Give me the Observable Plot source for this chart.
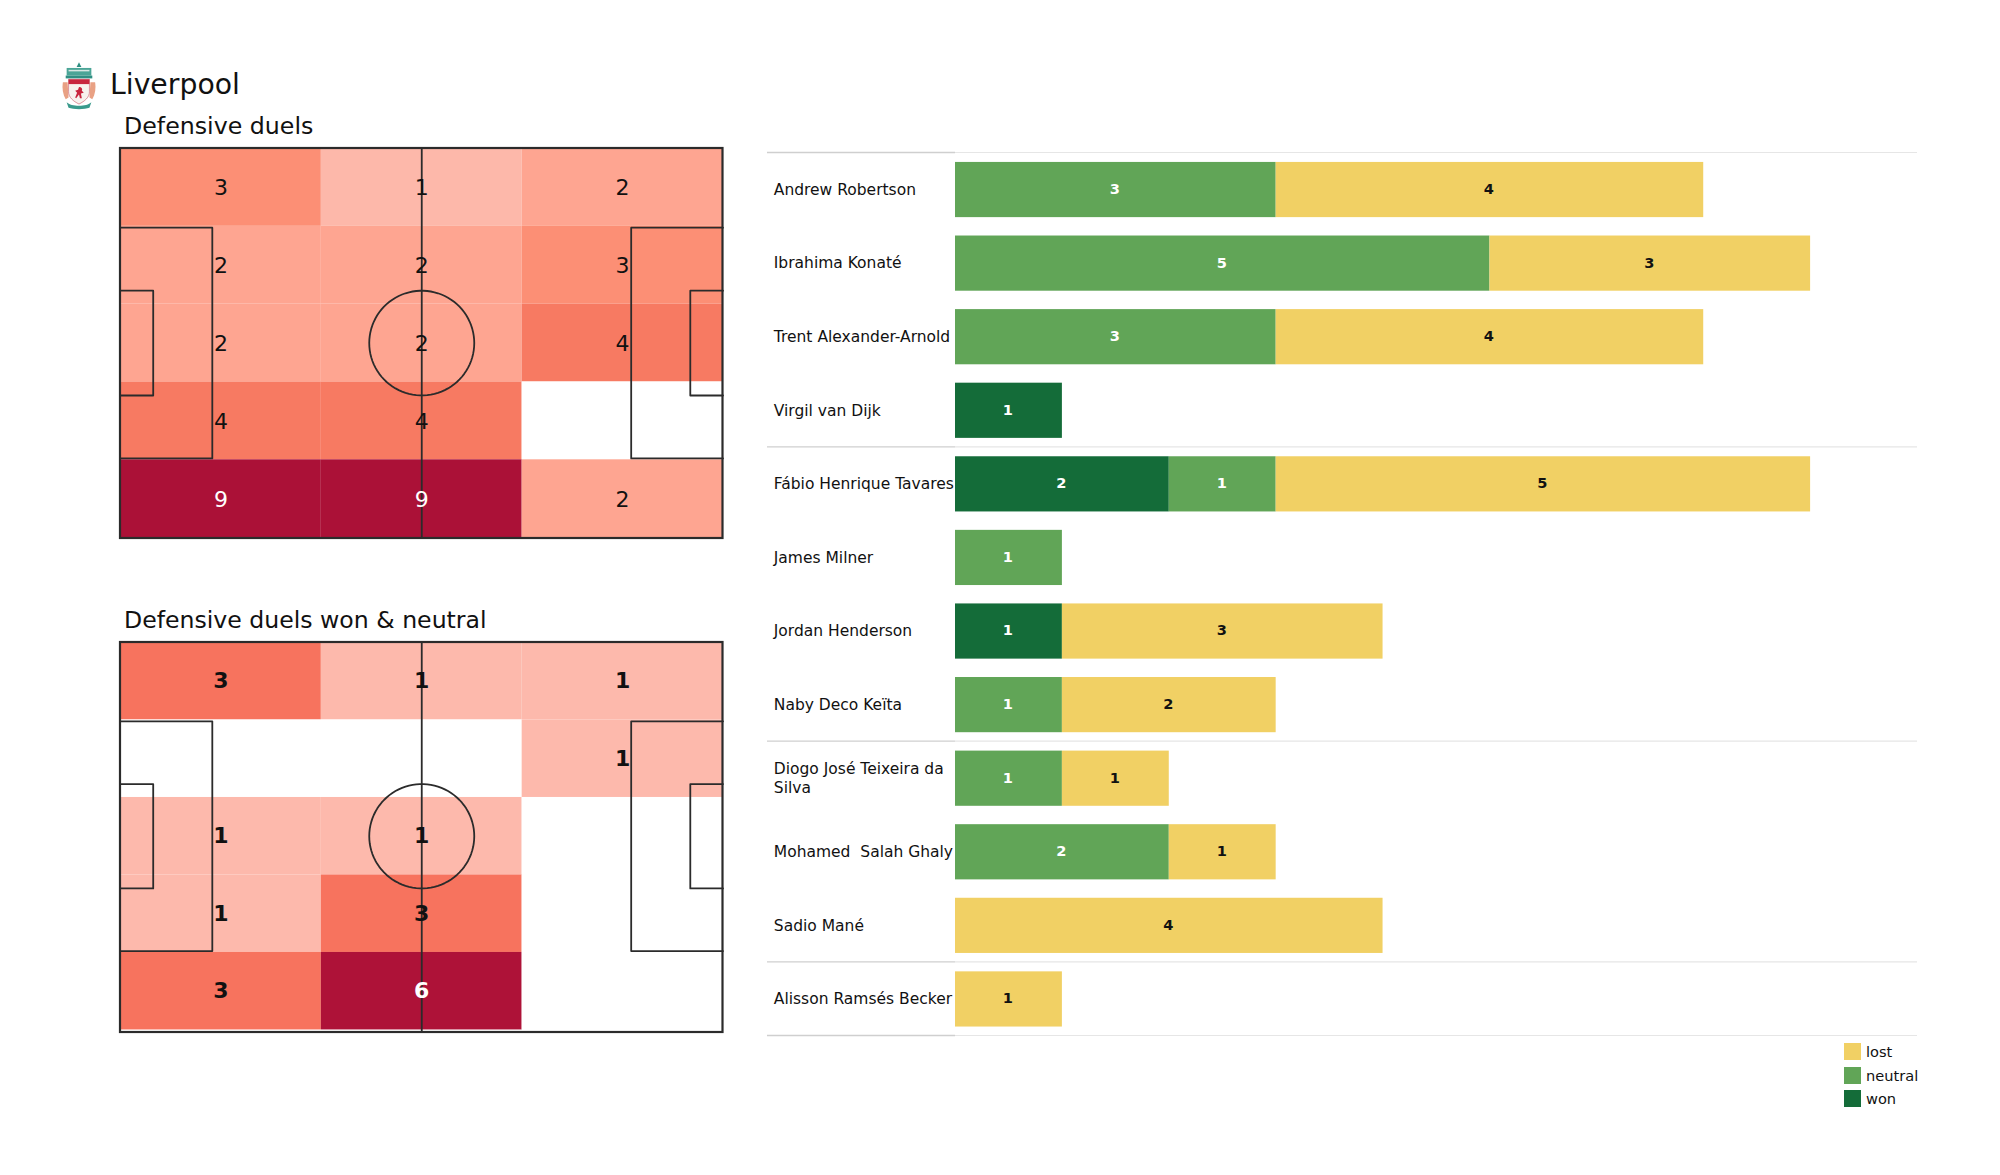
<!DOCTYPE html>
<html>
<head>
<meta charset="utf-8">
<script src="https://cdn.jsdelivr.net/npm/d3@7"></script>
<script src="https://cdn.jsdelivr.net/npm/@observablehq/plot@0.6"></script>
<style>
html,body{margin:0;padding:0;background:#fff;}
#page{position:relative;width:2000px;height:1175px;overflow:hidden;font-family:"DejaVu Sans",sans-serif;color:#111;}
#page svg{position:absolute;overflow:visible;background:transparent;}
.t{position:absolute;white-space:nowrap;line-height:1;}
.sw{position:absolute;width:17px;height:17px;}
</style>
</head>
<body>
<div id="page"></div>
<script>
// ---- pitch heatmaps (rows top to bottom, columns left to right)
const colsX = [0, 35, 70];
const rowsY = [0, 13.6, 27.2, 40.8, 54.4];
const duels = [
  [3, 1, 2],
  [2, 2, 3],
  [2, 2, 4],
  [4, 4, 0],
  [9, 9, 2]
];
const duelsWon = [
  [3, 1, 1],
  [0, 0, 1],
  [1, 1, 0],
  [1, 3, 0],
  [3, 6, 0]
];
const duelsDomain = [0, 1, 2, 3, 4, 9];
const duelsRange = ["#ffffff", "#fdb8aa", "#fea591", "#fc8f75", "#f77a62", "#ab1137"];
const wonDomain = [0, 1, 3, 6];
const wonRange = ["#ffffff", "#fdb9ac", "#f7735e", "#ae1238"];

// ---- per-player bars
const players = ["Andrew Robertson", "Ibrahima Konaté", "Trent Alexander-Arnold", "Virgil van Dijk",
  "Fábio Henrique Tavares", "James Milner", "Jordan Henderson", "Naby Deco Keïta",
  "Diogo José Teixeira da\nSilva", "Mohamed  Salah Ghaly", "Sadio Mané", "Alisson Ramsés Becker"];
const won     = [0, 0, 0, 1, 2, 0, 1, 0, 0, 0, 0, 0];
const neutral = [3, 5, 3, 0, 1, 1, 0, 1, 1, 2, 0, 0];
const lost    = [4, 3, 4, 0, 5, 0, 3, 2, 1, 1, 4, 1];
const groupBreaks = [0, 4, 8, 11, 12];
const outcomes = ["won", "neutral", "lost"];
const outcomeColors = ["#146c39", "#61a557", "#f1d064"];
const legendOrder = ["lost", "neutral", "won"];

const page = document.getElementById("page");
function title(txt, left, top, size) {
  const d = document.createElement("div");
  d.className = "t"; d.textContent = txt;
  d.style.left = left + "px"; d.style.top = top + "px"; d.style.fontSize = size + "px";
  page.appendChild(d);
}

function pitch(matrix, domain, range, top, weight, yMax, textDy) {
  const cells = [];
  matrix.forEach((r, i) => r.forEach((v, j) => cells.push({x: colsX[j], y: rowsY[i], v})));
  const ink = "#2b2b2b";
  const box = (x1, y1, x2, y2) => Plot.line([[x1,y1],[x2,y1],[x2,y2],[x1,y2]], {stroke: ink, strokeWidth: 1.8});
  const circle = d3.range(0, 361, 4).map(a => [52.5 + 9.15*Math.cos(a*Math.PI/180), 34 + 9.15*Math.sin(a*Math.PI/180)]);
  const svg = Plot.plot({
    width: 606.5, height: 394, margin: 2,
    x: {domain: [0, 105], axis: null},
    y: {domain: [0, yMax], axis: null, reverse: true},
    color: {type: "ordinal", domain, range},
    marks: [
      Plot.rect(cells, {x1: "x", x2: d => d.x + 35, y1: "y", y2: d => d.y + 13.6, fill: "v"}),
      box(0, 13.84, 16, 54.16), box(105, 13.84, 89, 54.16),
      box(0, 24.84, 5.7, 43.16), box(105, 24.84, 99.3, 43.16),
      Plot.line(circle, {stroke: ink, strokeWidth: 1.8}),
      Plot.ruleX([52.5], {stroke: ink, strokeWidth: 1.8}),
      Plot.rect([[0, 0]], {x1: () => 0, x2: () => 105, y1: () => 0, y2: () => yMax, fill: "none", stroke: ink, strokeWidth: 2.2}),
      Plot.text(cells.filter(d => d.v > 0), {
        x: d => d.x + 17.5, y: d => d.y + 6.8, text: "v", dy: textDy,
        fontSize: 22, fontWeight: weight, fontFamily: "DejaVu Sans",
        fill: d => d.v >= 6 ? "#fff" : "#111"
      })
    ]
  });
  svg.style.left = "118px"; svg.style.top = top + "px";
  page.appendChild(svg);
}

title("Liverpool", 110, 71, 28.3);
title("Defensive duels", 124, 115, 23.7);
title("Defensive duels won & neutral", 124, 609, 23.6);

pitch(duels, duelsDomain, duelsRange, 146, "normal", 68.15, 1);
pitch(duelsWon, wonDomain, wonRange, 640, "bold", 68.45, 0);

// bars
const rows = [];
players.forEach((p, i) => {
  let acc = 0;
  [won[i], neutral[i], lost[i]].forEach((v, k) => {
    if (v > 0) { rows.push({i, outcome: outcomes[k], x1: acc, x2: acc + v, v}); acc += v; }
  });
});
const labels = players.map((p, i) => ({p, i}));
const bars = Plot.plot({
  width: 1150, height: 900,
  marginLeft: 188, marginRight: 0, marginTop: 12, marginBottom: 5,
  x: {domain: [0, 9], axis: null},
  y: {domain: [0, 12], axis: null, reverse: true},
  color: {type: "ordinal", domain: outcomes, range: outcomeColors},
  marks: [
    Plot.ruleY(groupBreaks, {x1: 0, x2: 9, stroke: "#e6e6e6", strokeWidth: 1.2}),
    Plot.ruleY(groupBreaks, {x1: -1.759, x2: 0, stroke: "#cfcfcf", strokeWidth: 1.4}),
    Plot.rect(rows, {x1: "x1", x2: "x2", y1: d => d.i + 0.135, y2: d => d.i + 0.885, fill: "outcome"}),
    Plot.text(rows, {
      x: d => (d.x1 + d.x2) / 2, y: d => d.i + 0.5, text: "v", dx: -1,
      fontSize: 14.6, fontWeight: "bold", fontFamily: "DejaVu Sans",
      fill: d => d.outcome === "lost" ? "#111" : "#fff"
    }),
    Plot.text(labels, {
      x: () => -1.7, y: d => d.i + 0.5, text: "p", textAnchor: "start", dy: -0.5,
      fontSize: 15.5, lineHeight: 1.22, fontFamily: "DejaVu Sans", fill: "#111"
    })
  ]
});
bars.style.left = "767px"; bars.style.top = "140px";
page.appendChild(bars);

// legend
legendOrder.forEach((name, i) => {
  const s = document.createElement("div");
  s.className = "sw";
  s.style.left = "1844px"; s.style.top = (1043 + i * 23.5) + "px";
  s.style.background = outcomeColors[outcomes.indexOf(name)];
  page.appendChild(s);
  title(name, 1866, 1045 + i * 23.5, 14.6);
});

// crest
const crest = document.createElementNS("http://www.w3.org/2000/svg", "svg");
crest.setAttribute("width", "38"); crest.setAttribute("height", "50");
crest.setAttribute("viewBox", "0 0 40 52");
crest.style.left = "60px"; crest.style.top = "61px";
crest.innerHTML = `
  <path d="M20 1l2.5 5h-5z" fill="#2f8f83"/>
  <path d="M7 7h26v8H7z" fill="#4ba597"/>
  <path d="M9 9h22v1.6H9z" fill="#d8e8e4"/>
  <path d="M6 15h28v3H6z" fill="#2f8f83"/>
  <path d="M3 22c-1 6 0 13 3 18l3-2-1-16z" fill="#e9a184"/>
  <path d="M37 22c1 6 0 13-3 18l-3-2 1-16z" fill="#e9a184"/>
  <path d="M9 19h22v13c0 6-5 10-11 13C14 42 9 38 9 32z" fill="#f7f2ee" stroke="#c8485a" stroke-width=".6"/>
  <path d="M9 19h22v5H9z" fill="#c8263e"/>
  <path d="M20 27c3 0 4 2 3 4l2 2-3 1 1 5h-2l-1-4-3 4-1-1 2-5-2-2 3-1z" fill="#c8263e"/>
  <path d="M7 43c5 5 21 5 26 0l-2 6c-5 2-17 2-22 0z" fill="#3a9a8c"/>`;
page.appendChild(crest);
</script>
</body>
</html>
